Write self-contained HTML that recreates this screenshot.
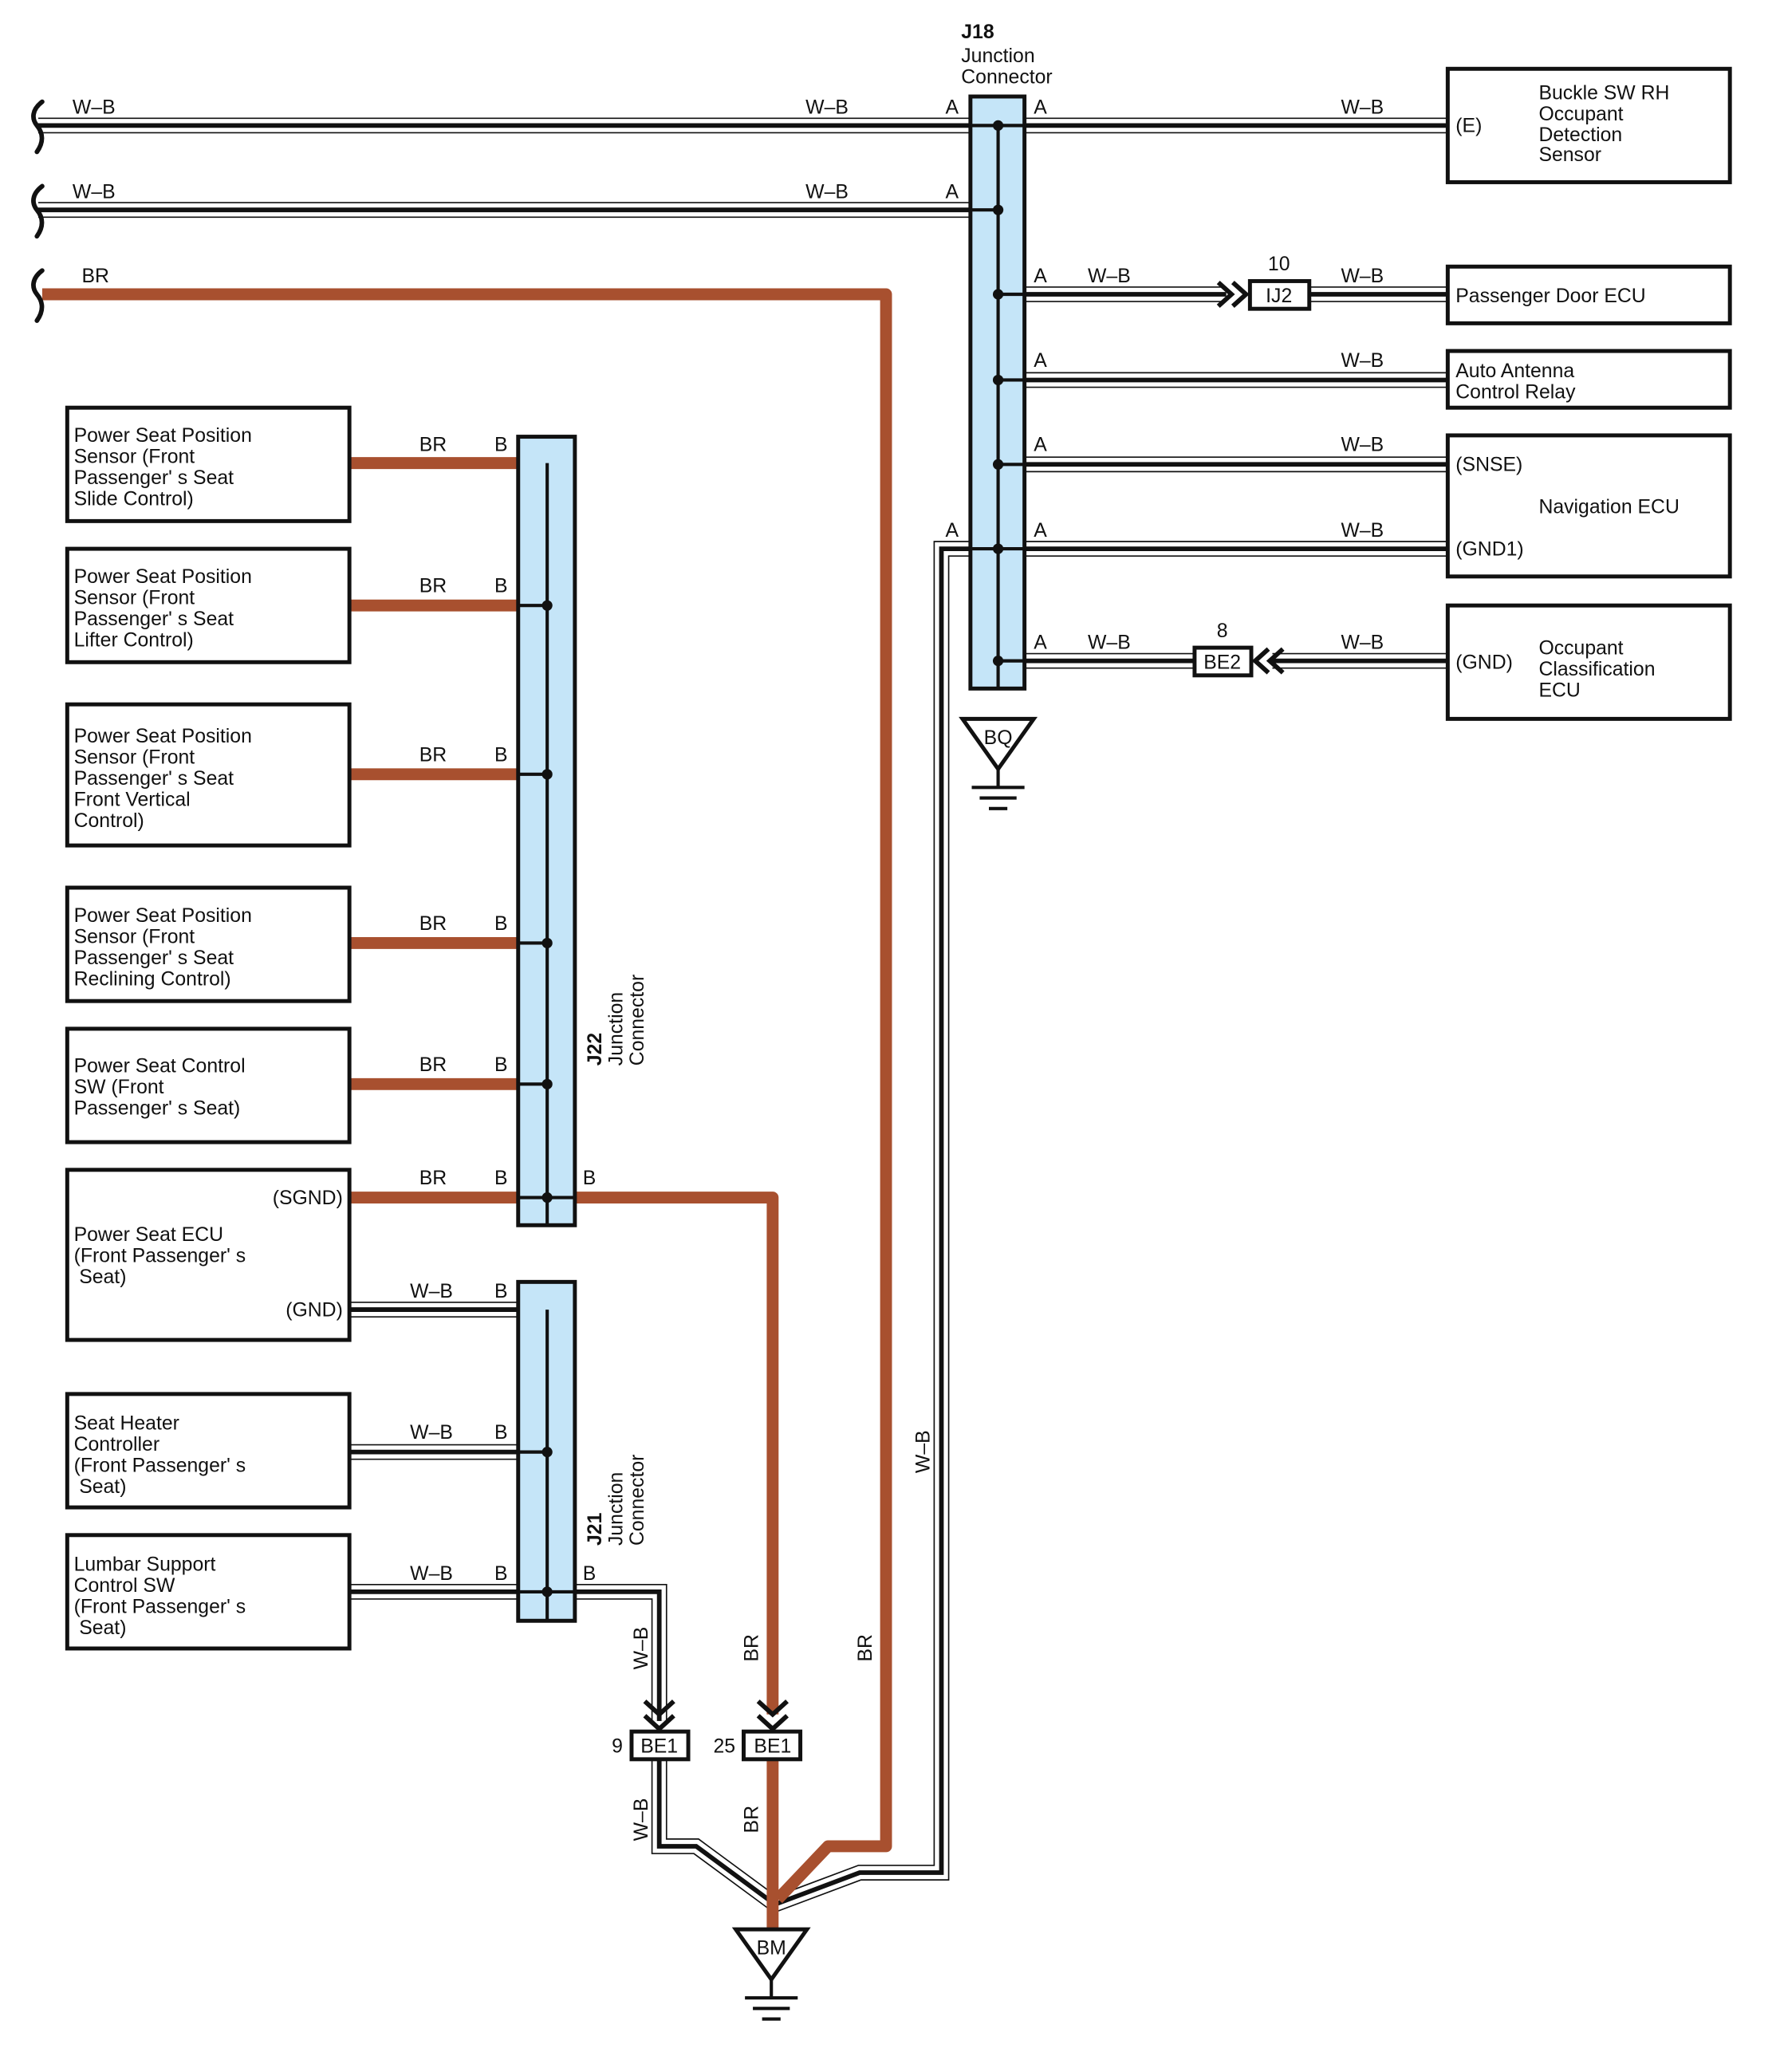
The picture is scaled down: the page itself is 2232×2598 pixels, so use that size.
<!DOCTYPE html>
<html><head><meta charset="utf-8"><style>
html,body{margin:0;padding:0;background:#fff}
svg{display:block}
text{font-family:"Liberation Sans",Arial,sans-serif;font-size:15px;fill:#111;white-space:pre}
.wo{fill:none;stroke:#111;stroke-width:12}
.wi{fill:none;stroke:#fff;stroke-width:10}
.wc{fill:none;stroke:#111;stroke-width:3.5}
.br{fill:none;stroke:#a8502f;stroke-width:9;stroke-linejoin:round}
.box{fill:#fff;stroke:#111;stroke-width:3}
.jc{fill:#c5e5f8;stroke:#111;stroke-width:3}
.ln{fill:none;stroke:#111;stroke-width:2.5}
.brk{fill:none;stroke:#111;stroke-width:3.5;stroke-linecap:round}
</style></head><body>
<svg width="2232" height="2598" viewBox="0 0 1350 1571" xmlns="http://www.w3.org/2000/svg">
<g>
<path class="wo" d="M29 95H1098"/><path class="wi" d="M29 95H1098"/><path class="wc" d="M29 95H1098"/>
<path class="wo" d="M29 159H736"/><path class="wi" d="M29 159H736"/><path class="wc" d="M29 159H736"/>
<path class="wo" d="M777 223H930"/><path class="wi" d="M777 223H930"/><path class="wc" d="M777 223H930"/>
<path class="wo" d="M993 223H1098"/><path class="wi" d="M993 223H1098"/><path class="wc" d="M993 223H1098"/>
<path class="wo" d="M777 288H1098"/><path class="wi" d="M777 288H1098"/><path class="wc" d="M777 288H1098"/>
<path class="wo" d="M777 352H1098"/><path class="wi" d="M777 352H1098"/><path class="wc" d="M777 352H1098"/>
<path class="wo" d="M777 416H1098"/><path class="wi" d="M777 416H1098"/><path class="wc" d="M777 416H1098"/>
<path class="wo" d="M777 501H906"/><path class="wi" d="M777 501H906"/><path class="wc" d="M777 501H906"/>
<path class="wo" d="M965 501H1098"/><path class="wi" d="M965 501H1098"/><path class="wc" d="M965 501H1098"/>
<path class="wo" d="M736 416H714V1420H652L588 1444"/><path class="wi" d="M736 416H714V1420H652L588 1444"/><path class="wc" d="M736 416H714V1420H652L588 1444"/>
<path class="wo" d="M265 993H393"/><path class="wi" d="M265 993H393"/><path class="wc" d="M265 993H393"/>
<path class="wo" d="M265 1101H393"/><path class="wi" d="M265 1101H393"/><path class="wc" d="M265 1101H393"/>
<path class="wo" d="M265 1207H393"/><path class="wi" d="M265 1207H393"/><path class="wc" d="M265 1207H393"/>
<path class="wo" d="M436 1207H500V1305"/><path class="wi" d="M436 1207H500V1305"/><path class="wc" d="M436 1207H500V1305"/>
<path class="wo" d="M500 1334V1400H528L585 1442"/><path class="wi" d="M500 1334V1400H528L585 1442"/><path class="wc" d="M500 1334V1400H528L585 1442"/>
</g>
<path class="br" d="M32 223H672V1400H628L590 1440"/>
<path class="br" d="M265 351H393"/>
<path class="br" d="M265 459H393"/>
<path class="br" d="M265 587H393"/>
<path class="br" d="M265 715H393"/>
<path class="br" d="M265 822H393"/>
<path class="br" d="M265 908H393"/>
<path class="br" d="M436 908H586V1300"/>
<path class="br" d="M586 1334V1463"/>
<path class="brk" d="M32 77C24 83 24 90 28 95C33 101 33 108 28 115"/>
<path class="brk" d="M32 141C24 147 24 154 28 159C33 165 33 172 28 179"/>
<path class="brk" d="M32 205C24 211 24 218 28 223C33 229 33 236 28 243"/>
<rect class="jc" x="736" y="73" width="41" height="449"/>
<path class="ln" d="M757 95V522M736 95H777M736 159H757M757 223H777M757 288H777M757 352H777M736 416H777M757 501H777"/>
<g fill="#111"><circle cx="757" cy="95" r="4"/><circle cx="757" cy="159" r="4"/><circle cx="757" cy="223" r="4"/><circle cx="757" cy="288" r="4"/><circle cx="757" cy="352" r="4"/><circle cx="757" cy="416" r="4"/><circle cx="757" cy="501" r="4"/></g>
<text x="729" y="29" font-weight="bold">J18</text><text x="729" y="47">Junction</text><text x="729" y="63">Connector</text>
<path d="M730 545H784L757 583Z" fill="#fff" stroke="#111" stroke-width="3"/>
<text x="757" y="564" text-anchor="middle">BQ</text>
<path class="ln" d="M757 583V597M737 597H777M743 605H771M750 613H764"/>
<path d="M924 214L934 223L924 232M935 214L945 223L935 232" fill="none" stroke="#111" stroke-width="3.5"/>
<rect class="box" x="948" y="213" width="45" height="21"/><text x="970" y="229" text-anchor="middle">IJ2</text><text x="970" y="205" text-anchor="middle">10</text>
<rect class="box" x="906" y="491" width="43" height="21"/><text x="927" y="507" text-anchor="middle">BE2</text><text x="927" y="483" text-anchor="middle">8</text>
<path d="M962 492L952 501L962 510M973 492L963 501L973 510" fill="none" stroke="#111" stroke-width="3.5"/>
<text x="55" y="86">W–B</text><text x="611" y="86">W–B</text><text x="717" y="86">A</text><text x="784" y="86">A</text><text x="1017" y="86">W–B</text>
<text x="55" y="150">W–B</text><text x="611" y="150">W–B</text><text x="717" y="150">A</text>
<text x="62" y="214">BR</text>
<text x="784" y="214">A</text><text x="825" y="214">W–B</text><text x="1017" y="214">W–B</text>
<text x="784" y="278">A</text><text x="1017" y="278">W–B</text>
<text x="784" y="342">A</text><text x="1017" y="342">W–B</text>
<text x="717" y="407">A</text><text x="784" y="407">A</text><text x="1017" y="407">W–B</text>
<text x="784" y="492">A</text><text x="825" y="492">W–B</text><text x="1017" y="492">W–B</text>
<rect class="box" x="1098" y="52" width="214" height="86"/>
<text x="1104" y="100">(E)</text><text x="1167" y="75">Buckle SW RH</text><text x="1167" y="91">Occupant</text><text x="1167" y="107">Detection</text><text x="1167" y="122">Sensor</text>
<rect class="box" x="1098" y="202" width="214" height="43"/><text x="1104" y="229">Passenger Door ECU</text>
<rect class="box" x="1098" y="266" width="214" height="43"/><text x="1104" y="286">Auto Antenna</text><text x="1104" y="302">Control Relay</text>
<rect class="box" x="1098" y="330" width="214" height="107"/><text x="1104" y="357">(SNSE)</text><text x="1167" y="389">Navigation ECU</text><text x="1104" y="421">(GND1)</text>
<rect class="box" x="1098" y="459" width="214" height="86"/><text x="1104" y="507">(GND)</text><text x="1167" y="496">Occupant</text><text x="1167" y="512">Classification</text><text x="1167" y="528">ECU</text>
<rect class="jc" x="393" y="331" width="43" height="598"/>
<path class="ln" d="M415 351V929M393 459H415M393 587H415M393 715H415M393 822H415M393 908H436"/>
<g fill="#111"><circle cx="415" cy="459" r="4"/><circle cx="415" cy="587" r="4"/><circle cx="415" cy="715" r="4"/><circle cx="415" cy="822" r="4"/><circle cx="415" cy="908" r="4"/></g>
<g transform="translate(456 808) rotate(-90)"><text x="0" y="0" font-weight="bold">J22</text><text x="0" y="16">Junction</text><text x="0" y="32">Connector</text></g>
<rect class="jc" x="393" y="972" width="43" height="257"/>
<path class="ln" d="M415 993V1229M393 1101H415M393 1207H436"/>
<g fill="#111"><circle cx="415" cy="1101" r="4"/><circle cx="415" cy="1207" r="4"/></g>
<g transform="translate(456 1172) rotate(-90)"><text x="0" y="0" font-weight="bold">J21</text><text x="0" y="16">Junction</text><text x="0" y="32">Connector</text></g>
<g>
<text x="318" y="342">BR</text><text x="375" y="342">B</text>
<text x="318" y="449">BR</text><text x="375" y="449">B</text>
<text x="318" y="577">BR</text><text x="375" y="577">B</text>
<text x="318" y="705">BR</text><text x="375" y="705">B</text>
<text x="318" y="812">BR</text><text x="375" y="812">B</text>
<text x="318" y="898">BR</text><text x="375" y="898">B</text><text x="442" y="898">B</text>
<text x="311" y="984">W–B</text><text x="375" y="984">B</text>
<text x="311" y="1091">W–B</text><text x="375" y="1091">B</text>
<text x="311" y="1198">W–B</text><text x="375" y="1198">B</text><text x="442" y="1198">B</text>
</g>
<rect class="box" x="51" y="309" width="214" height="86"/>
<text x="56" y="335">Power Seat Position</text><text x="56" y="351">Sensor (Front</text><text x="56" y="367">Passenger' s Seat</text><text x="56" y="383">Slide Control)</text>
<rect class="box" x="51" y="416" width="214" height="86"/>
<text x="56" y="442">Power Seat Position</text><text x="56" y="458">Sensor (Front</text><text x="56" y="474">Passenger' s Seat</text><text x="56" y="490">Lifter Control)</text>
<rect class="box" x="51" y="534" width="214" height="107"/>
<text x="56" y="563">Power Seat Position</text><text x="56" y="579">Sensor (Front</text><text x="56" y="595">Passenger' s Seat</text><text x="56" y="611">Front Vertical</text><text x="56" y="627">Control)</text>
<rect class="box" x="51" y="673" width="214" height="86"/>
<text x="56" y="699">Power Seat Position</text><text x="56" y="715">Sensor (Front</text><text x="56" y="731">Passenger' s Seat</text><text x="56" y="747">Reclining Control)</text>
<rect class="box" x="51" y="780" width="214" height="86"/>
<text x="56" y="813">Power Seat Control</text><text x="56" y="829">SW (Front</text><text x="56" y="845">Passenger' s Seat)</text>
<rect class="box" x="51" y="887" width="214" height="129"/>
<text x="260" y="913" text-anchor="end">(SGND)</text><text x="56" y="941">Power Seat ECU</text><text x="56" y="957">(Front Passenger' s</text><text x="60" y="973">Seat)</text><text x="260" y="998" text-anchor="end">(GND)</text>
<rect class="box" x="51" y="1057" width="214" height="86"/>
<text x="56" y="1084">Seat Heater</text><text x="56" y="1100">Controller</text><text x="56" y="1116">(Front Passenger' s</text><text x="60" y="1132">Seat)</text>
<rect class="box" x="51" y="1164" width="214" height="86"/>
<text x="56" y="1191">Lumbar Support</text><text x="56" y="1207">Control SW</text><text x="56" y="1223">(Front Passenger' s</text><text x="60" y="1239">Seat)</text>
<path d="M489 1290L500 1300L511 1290M489 1301L500 1311L511 1301" fill="none" stroke="#111" stroke-width="3.5"/>
<path d="M575 1290L586 1300L597 1290M575 1301L586 1311L597 1301" fill="none" stroke="#111" stroke-width="3.5"/>
<rect class="box" x="479" y="1313" width="43" height="21"/><text x="500" y="1329" text-anchor="middle">BE1</text><text x="464" y="1329">9</text>
<rect class="box" x="564" y="1313" width="43" height="21"/><text x="586" y="1329" text-anchor="middle">BE1</text><text x="541" y="1329">25</text>
<g transform="translate(491 1266) rotate(-90)"><text>W–B</text></g>
<g transform="translate(575 1260) rotate(-90)"><text>BR</text></g>
<g transform="translate(661 1260) rotate(-90)"><text>BR</text></g>
<g transform="translate(705 1117) rotate(-90)"><text>W–B</text></g>
<g transform="translate(491 1396) rotate(-90)"><text>W–B</text></g>
<g transform="translate(575 1390) rotate(-90)"><text>BR</text></g>
<path d="M558 1463H612L585 1501Z" fill="#fff" stroke="#111" stroke-width="3"/>
<text x="585" y="1482" text-anchor="middle">BM</text>
<path class="ln" d="M585 1501V1515M565 1515H605M571 1523H599M578 1531H592"/>
</svg>
</body></html>
